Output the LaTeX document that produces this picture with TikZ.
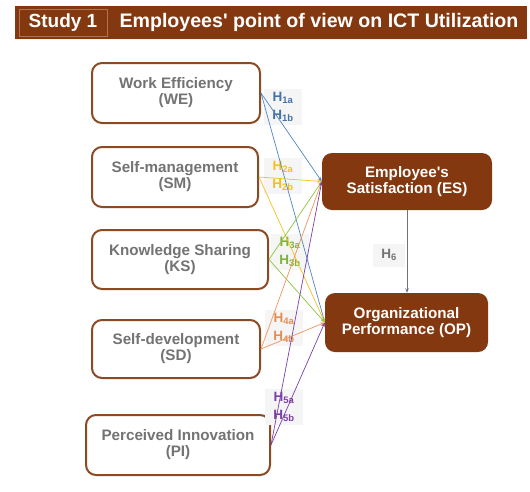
\documentclass[tikz,border=0pt]{standalone}
\usepackage{fontspec}
\setmainfont{Liberation Sans}
\usepackage{tikz}
\usetikzlibrary{arrows.meta, positioning}

\definecolor{headbrown}{HTML}{84380F}
\definecolor{boxbrown}{HTML}{8B4A22}
\definecolor{studyline}{HTML}{B07550}
\definecolor{textgray}{HTML}{737373}
\definecolor{labelbg}{HTML}{F5F5F5}
\definecolor{weblue}{HTML}{4F86C6}
\definecolor{smgold}{HTML}{F2C21B}
\definecolor{ksgreen}{HTML}{8CC63E}
\definecolor{sdorange}{HTML}{F0945A}
\definecolor{pipurple}{HTML}{7B3FA8}

\begin{document}
\begin{tikzpicture}[x=1pt, y=-1pt,
  factor/.style={draw=boxbrown, line width=2pt, fill=white, rounded corners=10pt,
    text=textgray, font=\fontsize{15.2}{16}\selectfont\bfseries, align=center,
    minimum height=60pt},
  outcome/.style={fill=headbrown, rounded corners=10pt, text=white,
    font=\fontsize{15.2}{16}\selectfont\bfseries, align=center, minimum height=58pt},
  hlabel/.style={fill=labelbg, font=\fontsize{13.5}{18}\selectfont\bfseries,
    align=center, inner sep=3pt, minimum width=38pt},
  hyp/.style={line width=0.7pt, -{Stealth[length=4.5pt, width=3.5pt]}}]
  \useasboundingbox (0,0) rectangle (530,491);

  % title bar
  \fill[headbrown] (15,6) rectangle (527,39);
  \draw[orange!12, line width=1pt] (15,39.5) -- (527,39.5);
  \node (study) [draw=studyline, line width=0.6pt, minimum width=88pt, minimum height=27pt,
    text=white, font=\fontsize{19}{20}\selectfont\bfseries] at (63,22.5) {Study 1};
  \node (title) [text=white, font=\fontsize{19.6}{20}\selectfont\bfseries, anchor=west]
    at (116,22.5) {Employees\textquotesingle{} point of view on ICT Utilization};

  % independent factors
  \node (we) [factor, minimum width=168pt] at (176,93) {Work Efficiency\\(WE)};
  \node (sm) [factor, minimum width=166pt] at (175,177) {Self-management\\(SM)};
  \node (ks) [factor, minimum width=176pt, minimum height=59pt] at (180,259.5) {Knowledge Sharing\\(KS)};
  \node (sd) [factor, minimum width=168pt, minimum height=58pt] at (176,349) {Self-development\\(SD)};
  \node (pi) [factor, minimum width=184pt] at (178,445) {Perceived Innovation\\(PI)};

  % outcomes
  \node (es) [outcome, minimum width=170pt, minimum height=57pt] at (407,181.5) {Employee\textquotesingle{}s\\Satisfaction (ES)};
  \node (op) [outcome, minimum width=163pt, minimum height=59pt] at (406.5,322.5) {Organizational\\Performance (OP)};

  % hypothesis labels
  \node (h1) [hlabel, text=weblue!85!black] at (283,107) {H\textsubscript{1a}\\H\textsubscript{1b}};
  \node (h2) [hlabel, text=smgold] at (283,176) {H\textsubscript{2a}\\H\textsubscript{2b}};
  \node (h3) [hlabel, text=ksgreen!90!black] at (290,252) {H\textsubscript{3a}\\H\textsubscript{3b}};
  \node (h4) [hlabel, text=sdorange!95!black] at (284,328) {H\textsubscript{4a}\\H\textsubscript{4b}};
  \node (h5) [hlabel, text=pipurple] at (284,407) {H\textsubscript{5a}\\H\textsubscript{5b}};
  \node (h6) [hlabel, text=textgray, minimum width=32pt, minimum height=23pt] at (389,255) {H\textsubscript{6}};

  % paths from each factor to both outcomes
  \foreach \src/\col in {we/weblue, sm/smgold, ks/ksgreen, sd/sdorange, pi/pipurple} {
    \draw[hyp, \col] (\src.east) -- (es.west);
    \draw[hyp, \col] (\src.east) -- (op.west);
  }
  \draw[hyp, textgray] (es.south) -- (es.south |- op.north);
\end{tikzpicture}
\end{document}
